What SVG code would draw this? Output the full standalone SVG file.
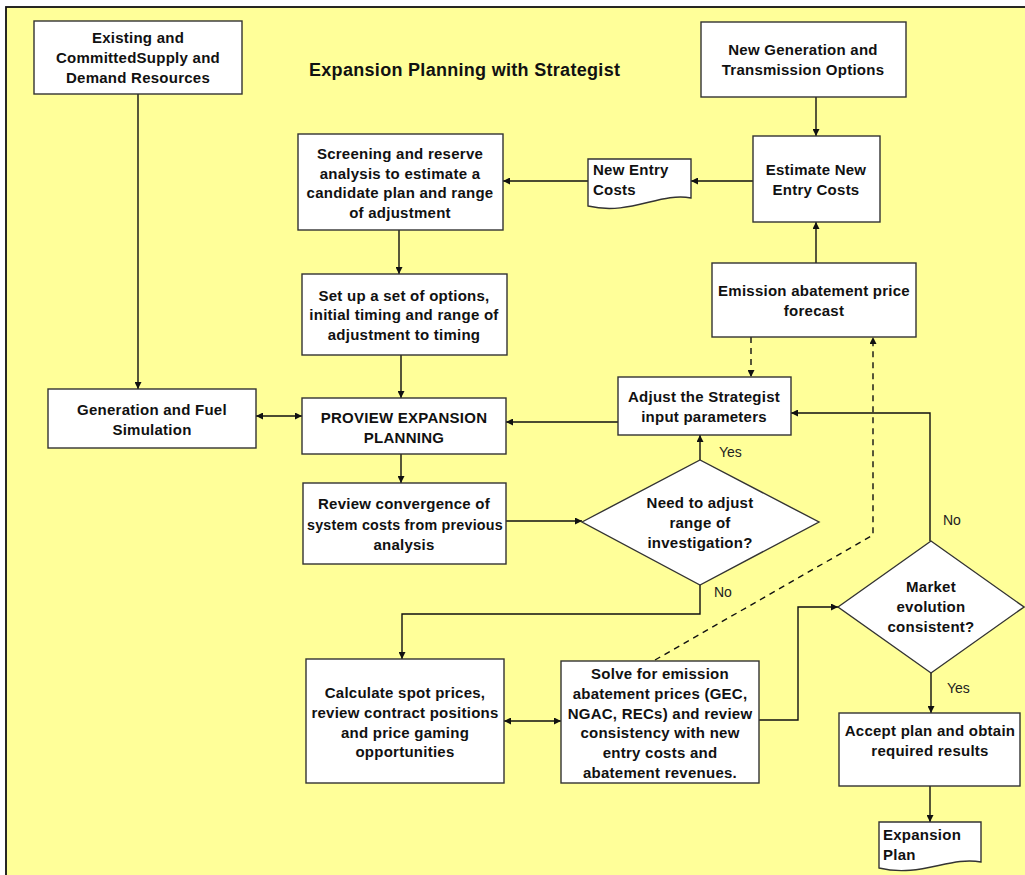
<svg xmlns="http://www.w3.org/2000/svg" width="1025" height="875" viewBox="0 0 1025 875">
<defs>
<style>
.box{fill:#fff;stroke:#333;stroke-width:1.4}
.t{font-family:"Liberation Sans",Arial,sans-serif;font-weight:bold;font-size:15px;letter-spacing:0.25px;fill:#111;text-anchor:middle}
.tl{font-family:"Liberation Sans",Arial,sans-serif;font-weight:bold;font-size:15px;letter-spacing:0.25px;fill:#111}
.lab{font-family:"Liberation Sans",Arial,sans-serif;font-size:14px;fill:#222}
.c{fill:none;stroke:#111;stroke-width:1.4}
.d{fill:none;stroke:#111;stroke-width:1.4;stroke-dasharray:6,5}
</style>
<marker id="ah" viewBox="0 0 10 10" refX="10" refY="5" markerWidth="7" markerHeight="7" markerUnits="userSpaceOnUse" orient="auto-start-reverse">
<path d="M0,0 L10,5 L0,10 z" fill="#111"/>
</marker>
</defs>
<rect x="0" y="0" width="1025" height="875" fill="#fff"/>
<rect x="6" y="7" width="1030" height="880" fill="#FFFF99" stroke="#111" stroke-width="1.8"/>
<text x="309" y="75.5" style="font-family:'Liberation Sans',Arial,sans-serif;font-weight:bold;font-size:18px;letter-spacing:0.3px;fill:#111">Expansion Planning with Strategist</text>

<g id="connectors">
<line class="c" x1="138" y1="94" x2="138" y2="389" marker-end="url(#ah)"/>
<line class="c" x1="816" y1="97" x2="816" y2="136" marker-end="url(#ah)"/>
<line class="c" x1="753" y1="181" x2="691" y2="181" marker-end="url(#ah)"/>
<line class="c" x1="588" y1="181" x2="503" y2="181" marker-end="url(#ah)"/>
<line class="c" x1="816" y1="263" x2="816" y2="222" marker-end="url(#ah)"/>
<line class="c" x1="399" y1="230" x2="399" y2="274" marker-end="url(#ah)"/>
<line class="c" x1="401" y1="355" x2="401" y2="398" marker-end="url(#ah)"/>
<line class="c" x1="256" y1="416" x2="302" y2="416" marker-start="url(#ah)" marker-end="url(#ah)"/>
<line class="c" x1="618" y1="422" x2="506" y2="422" marker-end="url(#ah)"/>
<line class="d" x1="751" y1="337" x2="751" y2="377" marker-end="url(#ah)"/>
<polyline class="d" points="655,660 873,535 873,337" marker-end="url(#ah)"/>
<line class="c" x1="401" y1="454" x2="401" y2="483" marker-end="url(#ah)"/>
<line class="c" x1="506" y1="521" x2="582" y2="521" marker-end="url(#ah)"/>
<line class="c" x1="700" y1="460" x2="700" y2="435" marker-end="url(#ah)"/>
<polyline class="c" points="700,585 700,614 402,614 402,659" marker-end="url(#ah)"/>
<line class="c" x1="504" y1="721" x2="561" y2="721" marker-start="url(#ah)" marker-end="url(#ah)"/>
<polyline class="c" points="759,720 798,720 798,607 838,607" marker-end="url(#ah)"/>
<polyline class="c" points="930,541 930,413 791,413" marker-end="url(#ah)"/>
<line class="c" x1="931" y1="673" x2="931" y2="713" marker-end="url(#ah)"/>
<line class="c" x1="930" y1="786" x2="930" y2="822" marker-end="url(#ah)"/>
<text class="lab" x="719" y="457">Yes</text>
<text class="lab" x="714" y="597">No</text>
<text class="lab" x="943" y="525">No</text>
<text class="lab" x="947" y="693">Yes</text>
</g>

<g id="existing">
<rect class="box" x="34" y="21" width="208" height="73"/>
<text class="t" x="138" y="43">Existing and</text>
<text class="t" x="138" y="63">CommittedSupply and</text>
<text class="t" x="138" y="83">Demand Resources</text>
</g>
<g id="newgen">
<rect class="box" x="701" y="22" width="205" height="75"/>
<text class="t" x="803" y="55">New Generation and</text>
<text class="t" x="803" y="75">Transmission Options</text>
</g>
<g id="screening">
<rect class="box" x="298" y="134" width="205" height="96"/>
<text class="t" x="400" y="159">Screening and reserve</text>
<text class="t" x="400" y="179">analysis to estimate a</text>
<text class="t" x="400" y="198">candidate plan and range</text>
<text class="t" x="400" y="218">of adjustment</text>
</g>
<g id="newentrycosts">
<path class="box" d="M588,159 H691 V198 C660,192 630,216 588,206 Z"/>
<text class="tl" x="593" y="175">New Entry</text>
<text class="tl" x="593" y="195">Costs</text>
</g>
<g id="estimate">
<rect class="box" x="753" y="136" width="127" height="86"/>
<text class="t" x="816" y="175">Estimate New</text>
<text class="t" x="816" y="195">Entry Costs</text>
</g>
<g id="emission">
<rect class="box" x="712" y="263" width="204" height="74"/>
<text class="t" x="814" y="296">Emission abatement price</text>
<text class="t" x="814" y="316">forecast</text>
</g>
<g id="setup">
<rect class="box" x="302" y="274" width="205" height="81"/>
<text class="t" x="404" y="301">Set up a set of options,</text>
<text class="t" x="404" y="320">initial timing and range of</text>
<text class="t" x="404" y="340">adjustment to timing</text>
</g>
<g id="adjust">
<rect class="box" x="618" y="377" width="173" height="58"/>
<text class="t" x="704" y="402">Adjust the Strategist</text>
<text class="t" x="704" y="422">input parameters</text>
</g>
<g id="genfuel">
<rect class="box" x="48" y="389" width="208" height="59"/>
<text class="t" x="152" y="415">Generation and Fuel</text>
<text class="t" x="152" y="435">Simulation</text>
</g>
<g id="proview">
<rect class="box" x="302" y="398" width="204" height="56"/>
<text class="t" x="404" y="423">PROVIEW EXPANSION</text>
<text class="t" x="404" y="443">PLANNING</text>
</g>
<g id="review">
<rect class="box" x="303" y="483" width="203" height="81"/>
<text class="t" x="404" y="509">Review convergence of</text>
<text class="t" x="405" y="530" textLength="196" lengthAdjust="spacingAndGlyphs">system costs from previous</text>
<text class="t" x="404" y="550">analysis</text>
</g>
<g id="needadjust">
<polygon class="box" points="582,522 700,460 819,522 700,585"/>
<text class="t" x="700" y="508">Need to adjust</text>
<text class="t" x="700" y="528">range of</text>
<text class="t" x="700" y="548">investigation?</text>
</g>
<g id="market">
<polygon class="box" points="838,607 931,541 1024,607 931,673"/>
<text class="t" x="931" y="592">Market</text>
<text class="t" x="931" y="612">evolution</text>
<text class="t" x="931" y="632">consistent?</text>
</g>
<g id="calculate">
<rect class="box" x="306" y="659" width="198" height="124"/>
<text class="t" x="405" y="698">Calculate spot prices,</text>
<text class="t" x="405" y="718">review contract positions</text>
<text class="t" x="405" y="738">and price gaming</text>
<text class="t" x="405" y="757">opportunities</text>
</g>
<g id="solve">
<rect class="box" x="561" y="661" width="198" height="122"/>
<text class="t" x="660" y="679">Solve for emission</text>
<text class="t" x="660" y="699">abatement prices (GEC,</text>
<text class="t" x="660" y="719">NGAC, RECs) and review</text>
<text class="t" x="660" y="738">consistency with new</text>
<text class="t" x="660" y="758">entry costs and</text>
<text class="t" x="660" y="778">abatement revenues.</text>
</g>
<g id="accept">
<rect class="box" x="839" y="713" width="181" height="73"/>
<text class="t" x="930" y="736">Accept plan and obtain</text>
<text class="t" x="930" y="756">required results</text>
</g>
<g id="expansionplan">
<path class="box" d="M879,822 H981 V862 C950,856 920,878 879,868 Z"/>
<text class="tl" x="883" y="840">Expansion</text>
<text class="tl" x="883" y="860">Plan</text>
</g>
</svg>
